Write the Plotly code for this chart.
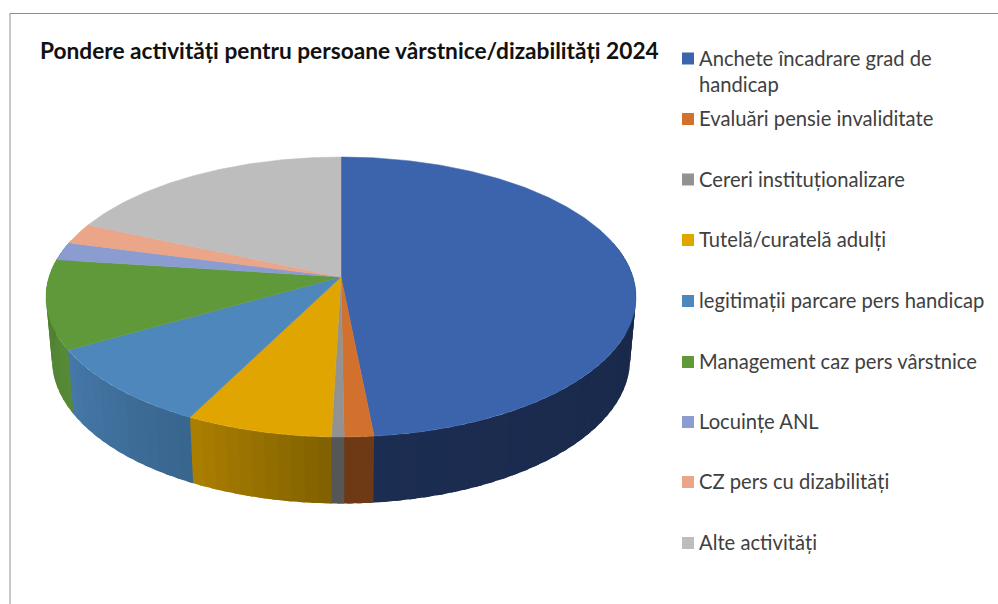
import numpy as np
import plotly.graph_objects as go

title = "Pondere activități pentru persoane vârstnice/dizabilități 2024"
categories = ["Anchete încadrare grad de<br>handicap", "Evaluări pensie invaliditate",
              "Cereri instituționalizare", "Tutelă/curatelă adulți",
              "legitimații parcare pers handicap", "Management caz pers vârstnice",
              "Locuințe ANL", "CZ pers cu dizabilități", "Alte activități"]
values = [48.45, 1.4, 0.6, 7.0, 9.3, 10.3, 2.1, 2.4, 18.45]

top_colors = ["#3B64AD", "#D2702D", "#929292", "#E0A500", "#4E87BB", "#609939", "#8A9CD0", "#EBA588", "#BDBDBD"]
wall_left = ["#1C2D52", "#6E3A16", "#565656", "#AC7F00", "#4578A9", "#4F7D30", "#52628F", "#8F6650", "#777777"]
wall_right = ["#162746", "#6E3A16", "#565656", "#806100", "#38658D", "#568A36", "#52628F", "#8F6650", "#777777"]
legend_y = [57.5, 118, 178.5, 239, 300, 361, 421, 481, 542]
swatch_y = [58.5, 119, 179.5, 240, 301, 362, 422, 482, 543]

K = 1 / 7
TOP = dict(cx=341, cy=297, rx=295, ry=140)
LOW = dict(cx=341, cy=359.5, rx=289, ry=144)


def project(theta_deg, e):
    """Circle angle (clockwise from the far point) to chart pixels, in perspective."""
    t = np.radians(theta_deg)
    x, y = np.sin(t), np.cos(t)
    w = 1 + K * y
    px = e["cx"] + e["rx"] * np.sqrt(1 - K ** 2) * x / w
    py = e["cy"] - e["ry"] * K - e["ry"] * (1 - K ** 2) * y / w
    return px, py


def hex_mix(a, b, f):
    ca = [int(a[i:i + 2], 16) for i in (1, 3, 5)]
    cb = [int(b[i:i + 2], 16) for i in (1, 3, 5)]
    return "rgb(%d,%d,%d)" % tuple(round(p + (q - p) * f) for p, q in zip(ca, cb))


total = sum(values)
edges = np.concatenate([[0], np.cumsum(values) / total * 360])
fig = go.Figure()

# side walls, front half only, as thin shaded strips; each strip runs under the next one
for i in range(len(values)):
    lo, hi = max(edges[i], 75), min(edges[i + 1], 285)
    if hi <= lo:
        continue
    n = max(1, int(np.ceil((hi - lo) / 2.5)))
    steps = np.linspace(lo, hi, n + 1)
    for j in range(n):
        arc = np.linspace(steps[j], steps[j + 1] + 1.2, 6)
        x1, y1 = project(arc, TOP)
        x2, y2 = project(arc[::-1], LOW)
        f = (j + 0.5) / n
        col = hex_mix(wall_right[i], wall_left[i], f)
        fig.add_trace(go.Scatter(x=np.r_[x1, x2], y=np.r_[y1, y2], mode="none", fill="toself",
                                 fillcolor=col, hoverinfo="skip", showlegend=False))

# top face
ax, ay = TOP["cx"], TOP["cy"] - TOP["ry"] * K
for i, cat in enumerate(categories):
    arc = np.linspace(edges[i], edges[i + 1], max(3, int(values[i] * 6)))
    x, y = project(arc, TOP)
    fig.add_trace(go.Scatter(x=np.r_[ax, x, ax], y=np.r_[ay, y, ay], mode="lines", fill="toself",
                             fillcolor=top_colors[i], line=dict(color=top_colors[i], width=0.5),
                             name=cat.replace("<br>", " "), hoverinfo="name", showlegend=False))

# legend swatches
fig.add_trace(go.Scatter(x=[688] * len(categories), y=swatch_y, mode="markers",
                         marker=dict(symbol="square", size=12, color=top_colors, line=dict(width=0)),
                         hoverinfo="skip", showlegend=False))

FONT = "Lato"
anns = [dict(x=38, y=50.5, text="<b>%s</b>" % title, font=dict(family=FONT, size=22.7, color="#111111"))]
for cat, ly in zip(categories, legend_y):
    parts = cat.split("<br>")
    for k, part in enumerate(parts):
        anns.append(dict(x=697, y=ly + k * 26, text=part, font=dict(family=FONT, size=20.2, color="#404040")))
for a in anns:
    a.update(xref="x", yref="y", xanchor="left", yanchor="middle", showarrow=False)

fig.update_layout(
    width=998, height=604, autosize=False, margin=dict(l=0, r=0, t=0, b=0),
    paper_bgcolor="white", plot_bgcolor="white", showlegend=False, annotations=anns,
    xaxis=dict(range=[0, 998], visible=False, fixedrange=True),
    yaxis=dict(range=[604, 0], visible=False, fixedrange=True),
    shapes=[dict(type="line", xref="x", yref="y", x0=10, x1=998, y0=13.5, y1=13.5, line=dict(color="#8E8E8E", width=1)),
            dict(type="line", xref="x", yref="y", x0=10, x1=10, y0=13.5, y1=604, line=dict(color="#8E8E8E", width=1))],
)
fig.write_html("out.html", config=dict(displayModeBar=False),
               post_script="document.body.style.margin='0';document.body.style.overflow='hidden';")
